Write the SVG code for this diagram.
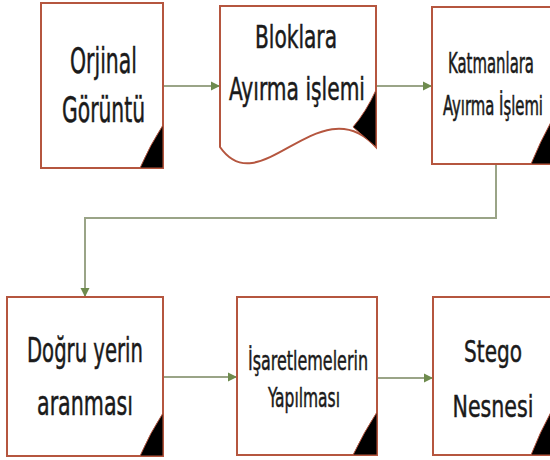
<svg xmlns="http://www.w3.org/2000/svg" width="550" height="460" viewBox="0 0 550 460">
  <defs>
    <marker id="arr" viewBox="0 0 10 10" refX="10" refY="5" markerWidth="9" markerHeight="11" markerUnits="userSpaceOnUse" orient="auto">
      <path d="M0,0 L10,5 L0,10 z" fill="#6E8B4E"/>
    </marker>
    <style>
      .box { fill: #ffffff; stroke: #B5563F; stroke-width: 2; }
      .fold { fill: #000000; stroke: #B5563F; stroke-width: 1; }
      .conn { fill: none; stroke: #9AA487; stroke-width: 2; }
      .t { font-family: "DejaVu Sans Condensed", "DejaVu Sans", "Liberation Sans", sans-serif; fill: #1a1a1a; stroke: #1a1a1a; stroke-width: 0.5; text-anchor: middle; }
      .ts { stroke-width: 0.3; }
    </style>
  </defs>
  <rect width="550" height="460" fill="#ffffff"/>

  <g id="connectors">
    <path class="conn" d="M163,86 H220" marker-end="url(#arr)"/>
    <path class="conn" d="M376,86 H432" marker-end="url(#arr)"/>
    <path class="conn" d="M496,165 V218 H85 V297" marker-end="url(#arr)"/>
    <path class="conn" d="M163,377 H237" marker-end="url(#arr)"/>
    <path class="conn" d="M377,378 H433" marker-end="url(#arr)"/>
  </g>

  <g id="orjinal">
    <rect class="box" x="41" y="3" width="122" height="165"/>
    <path class="fold" d="M163,125 Q150,145 140,168 L163,168 Z"/>
    <text class="t" x="103.5" y="73" font-size="36" textLength="67" lengthAdjust="spacingAndGlyphs">Orjinal</text>
    <text class="t" x="103.5" y="122" font-size="35" textLength="83" lengthAdjust="spacingAndGlyphs">Görüntü</text>
  </g>

  <g id="bloklara">
    <path class="box" d="M220,6 H376 V147 C320,85 260,205 220,147 Z"/>
    <path class="fold" d="M376,90 Q366,112 353,127 L376,147 Z"/>
    <text class="t" x="296" y="48" font-size="32" textLength="82" lengthAdjust="spacingAndGlyphs">Bloklara</text>
    <text class="t" x="297" y="100" font-size="32" textLength="136" lengthAdjust="spacingAndGlyphs">Ayırma işlemi</text>
  </g>

  <g id="katmanlara">
    <rect class="box" x="432" y="7" width="119" height="157"/>
    <path class="fold" d="M551,122 Q540,142 531,164 L551,164 Z"/>
    <text class="t ts" transform="translate(491,73) scale(1,1.75)" x="0" y="0" font-size="16" textLength="86" lengthAdjust="spacingAndGlyphs">Katmanlara</text>
    <text class="t ts" transform="translate(493,115) scale(1,1.85)" x="0" y="0" font-size="14" textLength="100" lengthAdjust="spacingAndGlyphs">Ayırma İşlemi</text>
  </g>

  <g id="dogru-yerin">
    <rect class="box" x="7" y="297" width="156" height="159"/>
    <path class="fold" d="M163,413 Q150,433 140,456 L163,456 Z"/>
    <text class="t" x="85" y="362" font-size="34" textLength="116" lengthAdjust="spacingAndGlyphs">Doğru yerin</text>
    <text class="t" x="85" y="415" font-size="34" textLength="96" lengthAdjust="spacingAndGlyphs">aranması</text>
  </g>

  <g id="isaretlemeler">
    <rect class="box" x="237" y="297" width="140" height="158"/>
    <path class="fold" d="M377,412 Q364,432 353,455 L377,455 Z"/>
    <text class="t" x="308" y="370" font-size="27" textLength="120" lengthAdjust="spacingAndGlyphs">İşaretlemelerin</text>
    <text class="t" x="304" y="407" font-size="26" textLength="72" lengthAdjust="spacingAndGlyphs">Yapılması</text>
  </g>

  <g id="stego">
    <rect class="box" x="433" y="297" width="118" height="158"/>
    <path class="fold" d="M551,412 Q540,432 531,455 L551,455 Z"/>
    <text class="t ts" transform="translate(493,362) scale(1,1.55)" x="0" y="0" font-size="20" textLength="58" lengthAdjust="spacingAndGlyphs">Stego</text>
    <text class="t ts" transform="translate(493,417) scale(1,1.55)" x="0" y="0" font-size="20" textLength="81" lengthAdjust="spacingAndGlyphs">Nesnesi</text>
  </g>
</svg>
